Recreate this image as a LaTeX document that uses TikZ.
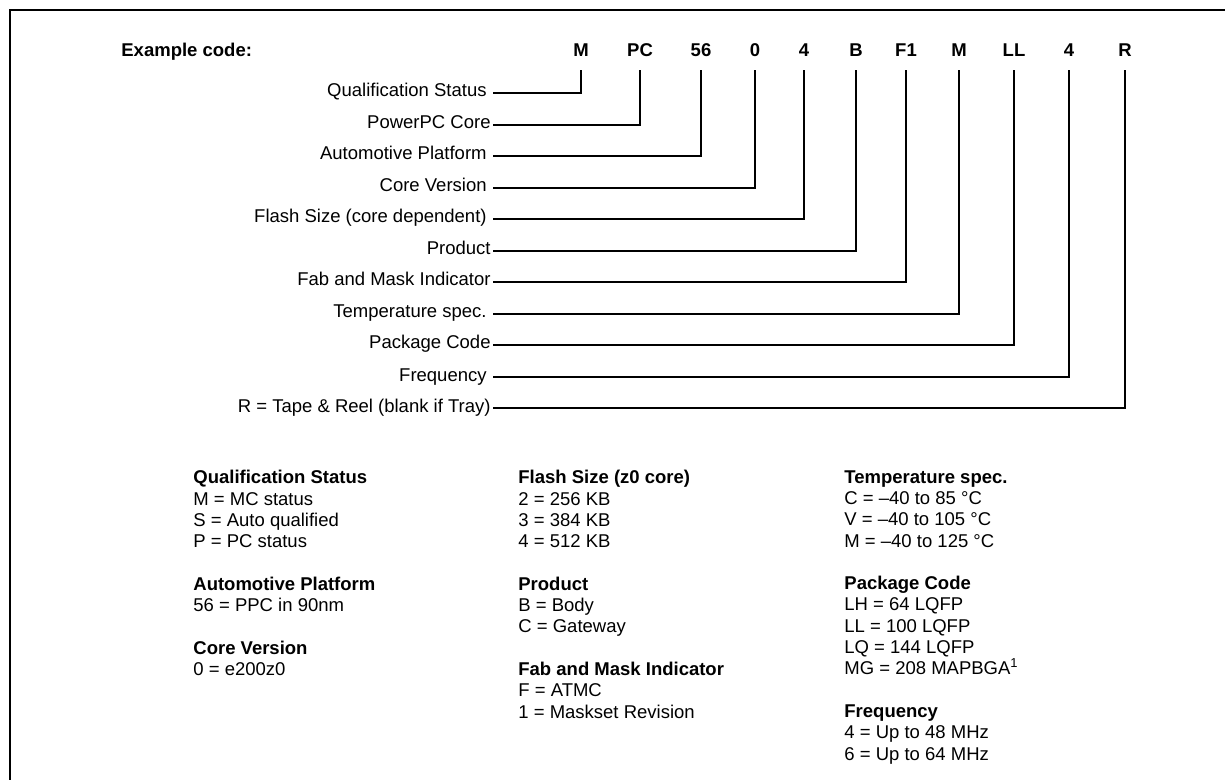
\documentclass[tikz,border=0pt]{standalone}
\usepackage{fontspec}
\setmainfont{Liberation Sans}
\usetikzlibrary{positioning}

\begin{document}
\begin{tikzpicture}[
      x=0.5pt, y=-0.5pt,
      every node/.style={font=\fontsize{9.25pt}{10.65pt}\selectfont},
      codechar/.style={font=\fontsize{9.25pt}{10.65pt}\selectfont\bfseries, anchor=base, inner xsep=0pt, inner ysep=6.5pt, text depth=0pt},
      partlabel/.style={anchor=east, inner xsep=1pt, inner ysep=0pt, text height=4pt, text depth=0pt},
      spaced/.style={inner xsep=3pt},
      legend/.style={anchor=north west, inner sep=0pt, align=left},
      lead/.style={line width=0.8pt}
    ]
      \useasboundingbox (0,0) rectangle (1225,780);

      % frame, cut off on the right and at the bottom
      \draw[line width=1pt] (1240,10) -- (10,10) -- (10,800);

      % example code
      \node[codechar, anchor=base west] (ex) at (121,57) {Example code:};
      \node[codechar] (cM)  at (581,57)  {M};
      \node[codechar] (cPC) at (640,57)  {PC};
      \node[codechar] (c56) at (701,57)  {56};
      \node[codechar] (c0)  at (755,57)  {0};
      \node[codechar] (c4)  at (804,57)  {4};
      \node[codechar] (cB)  at (856,57)  {B};
      \node[codechar] (cF1) at (906,57)  {F1};
      \node[codechar] (cT)  at (959,57)  {M};
      \node[codechar] (cLL) at (1014,57) {LL};
      \node[codechar] (cFr) at (1069,57) {4};
      \node[codechar] (cR)  at (1125,57) {R};

      % field names
      \node[partlabel, spaced] (lQual)  at (493,93)  {Qualification Status};
      \node[partlabel]         (lCore)  at (493,125) {PowerPC Core};
      \node[partlabel, spaced] (lPlat)  at (493,156) {Automotive Platform};
      \node[partlabel, spaced] (lVers)  at (493,188) {Core Version};
      \node[partlabel, spaced] (lFlash) at (493,219) {Flash Size (core dependent)};
      \node[partlabel]         (lProd)  at (493,251) {Product};
      \node[partlabel]         (lFab)   at (493,282) {Fab and Mask Indicator};
      \node[partlabel, spaced] (lTemp)  at (493,314) {Temperature spec.};
      \node[partlabel]         (lPack)  at (493,345) {Package Code};
      \node[partlabel, spaced] (lFreq)  at (493,377) {Frequency};
      \node[partlabel]         (lReel)  at (493,408) {R = Tape \& Reel (blank if Tray)};

      \foreach \l/\c in {lQual/cM, lCore/cPC, lPlat/c56, lVers/c0, lFlash/c4, lProd/cB,
                         lFab/cF1, lTemp/cT, lPack/cLL, lFreq/cFr, lReel/cR}
        \draw[lead] (\l.east) -| (\c.south);

      % key
      \node[legend] (keyA) at (193,470) {\textbf{Qualification Status}\\M = MC status\\S = Auto qualified\\P = PC status\\[10.65pt]
        \textbf{Automotive Platform}\\56 = PPC in 90nm\\[10.65pt]
        \textbf{Core Version}\\0 = e200z0};
      \node[legend] (keyB) at (518,470) {\textbf{Flash Size (z0 core)}\\2 = 256 KB\\3 = 384 KB\\4 = 512 KB\\[10.65pt]
        \textbf{Product}\\B = Body\\C = Gateway\\[10.65pt]
        \textbf{Fab and Mask Indicator}\\F = ATMC\\1 = Maskset Revision};
      \node[legend] (keyC) at (844,470) {\textbf{Temperature spec.}\\C = --40 to 85 °C\\V = --40 to 105 °C\\M = --40 to 125 °C\\[10.65pt]
        \textbf{Package Code}\\LH = 64 LQFP\\LL = 100 LQFP\\LQ = 144 LQFP\\MG = 208 MAPBGA\textsuperscript{1}\\[10.65pt]
        \textbf{Frequency}\\4 = Up to 48 MHz\\6 = Up to 64 MHz};
    \end{tikzpicture}
\end{document}
